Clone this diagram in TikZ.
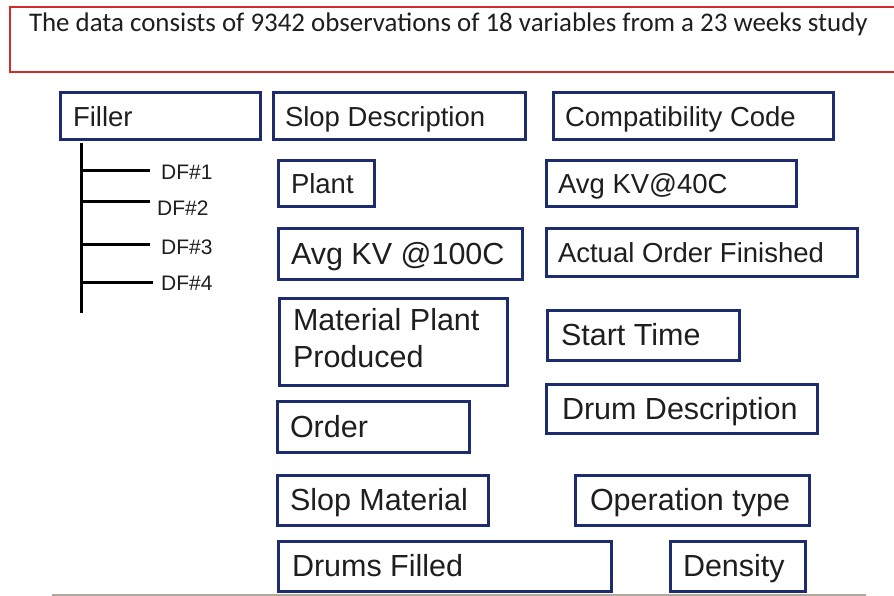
\documentclass[tikz,border=0pt]{standalone}
\usepackage{fontspec}
\setmainfont{Liberation Sans}
\newfontfamily\captionfont{Carlito}

\definecolor{fieldblue}{RGB}{28,44,110}
\definecolor{headred}{RGB}{208,44,44}
\definecolor{rulegray}{RGB}{178,168,158}
\definecolor{inkgray}{RGB}{30,30,30}

% \fieldbox[extra options]{name}{x1}{y1}{x2}{y2}{left padding}{text}
\newcommand\fieldbox[8][]{%
  \pgfmathsetmacro\fldW{#5-#3}%
  \pgfmathsetmacro\fldH{#6-#4}%
  \pgfmathsetmacro\fldT{#5-#3-2*#7}%
  \node[field, minimum width=\fldW pt, minimum height=\fldH pt,
        inner xsep=#7pt, #1] (#2) at (#3,#4) {\makebox[\fldT pt][l]{#8}};%
}

\begin{document}
\begin{tikzpicture}[x=1pt, y=-1pt,
  field/.style={draw=fieldblue, line width=3pt, rectangle, anchor=north west,
    outer sep=0pt, inner ysep=0pt, text=inkgray,
    font=\fontsize{27.5}{37}\selectfont, text height=19.7pt, text depth=0pt},
  large/.style={font=\fontsize{30.5}{37}\selectfont, text height=21.8pt},
  headbox/.style={draw=headred, line width=2.6pt, rectangle, anchor=north west,
    outer sep=0pt, inner ysep=0pt, inner xsep=19pt, text=inkgray,
    font=\captionfont\fontsize{26.9}{30}\selectfont, text height=20pt, text depth=36pt},
  dflabel/.style={anchor=west, inner ysep=0pt, text=inkgray,
    font=\fontsize{21}{25}\selectfont, text height=15pt, text depth=0pt},
  stem/.style={draw=black, line width=3pt},
  baserule/.style={draw=rulegray, line width=2pt}
]
\useasboundingbox (0,0) rectangle (894,596);

% heading
\node[headbox, minimum width=887pt, minimum height=65pt] (heading) at (10,7)
  {\makebox[849pt][l]{The data consists of 9342 observations of 18 variables from a 23 weeks study}};

% variable boxes, first column
\fieldbox{filler}{60}{93}{260}{140}{13}{Filler}

% second column
\fieldbox{slopdesc}{273}{93}{525}{140}{12}{Slop Description}
\fieldbox{plant}{278}{161}{374}{207}{13}{Plant}
\fieldbox[large]{kvhundred}{278}{229}{522}{279}{13}{Avg KV @100C}
\fieldbox[large, text height=25.9pt, text depth=48.1pt]{matplant}{279}{298}{507}{385}{14}%
  {\begin{tabular}[t]{@{}l@{}}Material Plant\\Produced\end{tabular}}
\fieldbox[large]{order}{277}{401}{469}{452}{13}{Order}
\fieldbox[large]{slopmat}{277}{475}{488}{525}{13}{Slop Material}
\fieldbox[large]{drumsfilled}{278}{541}{611}{591}{14}{Drums Filled}

% third column
\fieldbox{compat}{553}{93}{833}{140}{12}{Compatibility Code}
\fieldbox{kvforty}{546}{161}{796}{207}{12}{Avg KV@40C}
\fieldbox{actual}{546}{229}{857}{276}{12}{Actual Order Finished}
\fieldbox[large]{starttime}{547}{310}{739}{360}{14}{Start Time}
\fieldbox[large]{drumdesc}{546}{384}{817}{433}{16}{Drum Description}
\fieldbox[large]{optype}{575}{475}{809}{525}{15}{Operation type}
\fieldbox[large]{density}{670}{541}{805}{591}{13}{Density}

% filler breakdown
\coordinate (trunktop) at (81,143);
\coordinate (trunkbot) at (81,313);
\draw[stem] (trunktop) -- (trunkbot);

\node[dflabel, inner xsep=11pt] (df1) at (150,172.5) {DF\#1};
\node[dflabel, inner xsep=7pt]  (df2) at (150,208)   {DF\#2};
\node[dflabel, inner xsep=11pt] (df3) at (150,247)   {DF\#3};
\node[dflabel, inner xsep=8pt]  (df4) at (153,283)   {DF\#4};

\coordinate (j1) at (81,171);
\coordinate (j2) at (81,202);
\coordinate (j3) at (81,244);
\coordinate (j4) at (81,282);
\draw[stem] (j1) -- (j1 -| df1.west);
\draw[stem] (j2) -- (j2 -| df2.west);
\draw[stem] (j3) -- (j3 -| df3.west);
\draw[stem] (j4) -- (j4 -| df4.west);

% rule along the bottom
\coordinate (ruleleft) at (52,594.5);
\coordinate (ruleright) at (866,594.5);
\draw[baserule] (ruleleft) -- (ruleright);
\end{tikzpicture}
\end{document}
